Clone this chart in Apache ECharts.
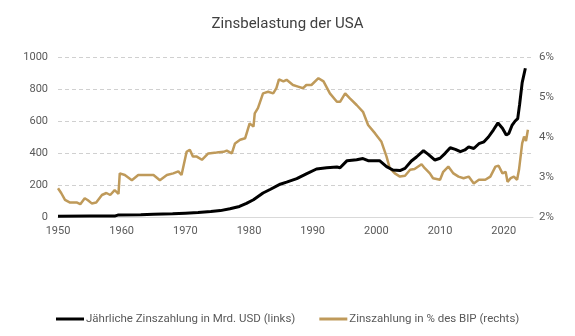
<!DOCTYPE html>
<html>
<head>
<meta charset="utf-8">
<script src="https://cdn.jsdelivr.net/npm/echarts@6/dist/echarts.min.js"></script>
<style>
  html, body { margin: 0; padding: 0; background: #fff; }
  #chart { width: 575px; height: 336px; }
</style>
</head>
<body>
<div id="chart"></div>
<script>
// Federal interest payments, USD bn (left axis)
const paymentYears = [1950, 1955, 1959.0, 1959.4, 1963, 1965, 1968, 1970, 1972, 1974, 1975.5, 1977, 1978.5, 1979.6, 1980.7,
  1982.2, 1983.3, 1984.9, 1985.9, 1987.5, 1989, 1990.6, 1992.2, 1993.8, 1994.3, 1995.4, 1996.9, 1997.9, 1998.7,
  2000.5, 2001.6, 2002.6, 2003.7, 2004.5, 2005.5, 2006.3, 2007.4, 2008.2, 2009.2, 2010, 2010.8, 2011.6, 2012.4,
  2013.2, 2013.9, 2014.5, 2015.3, 2016.1, 2016.9, 2017.6, 2018.4, 2019.1, 2019.8, 2020.4, 2020.8, 2021.3, 2021.8,
  2022.2, 2022.5, 2022.9, 2023.4];
const paymentValues = [5, 7, 7, 12, 14, 17, 20, 24, 28, 34, 40, 52, 66, 85, 108,
  150, 172, 205, 218, 240, 270, 300, 308, 312, 308, 352, 358, 365, 352,
  352, 315, 294, 290, 304, 350, 375, 415, 390, 356, 367, 398, 433, 423,
  408, 419, 438, 428, 458, 470, 500, 545, 588, 555, 512, 522, 572, 600,
  615, 705, 840, 930];

// Interest payments as % of GDP (right axis)
const shareYears = [1950, 1950.5, 1951.1, 1951.9, 1953, 1953.5, 1954.2, 1954.7, 1955.3, 1956, 1956.9, 1957.6, 1958.2,
  1958.9, 1959.5, 1959.7, 1960.5, 1961.6, 1962.6, 1965, 1966, 1967.1, 1968.1, 1968.9, 1969.4, 1970.2, 1970.7,
  1971.2, 1971.8, 1972.6, 1973.6, 1974.9, 1976, 1976.5, 1977.3, 1977.8, 1978.6, 1979.4, 1980.1, 1980.7, 1980.9,
  1981.4, 1982.2, 1983, 1983.8, 1984.3, 1984.7, 1985.4, 1985.9, 1986.9, 1987.7, 1988.5, 1989, 1989.8, 1990.9,
  1991.7, 1992.7, 1993.8, 1994.3, 1995.1, 1995.8, 1996.9, 1997.9, 1998.7, 1999.8, 2000.8, 2001.6, 2002.1, 2002.9,
  2003.7, 2004.5, 2005.3, 2006, 2007.1, 2007.6, 2008.4, 2008.9, 2010, 2010.5, 2011.3, 2012.1, 2012.9, 2013.7,
  2014.5, 2015.3, 2016.1, 2017.1, 2017.9, 2018.7, 2019.2, 2019.8, 2020.3, 2020.6, 2021.1, 2021.6, 2022.1, 2022.4,
  2022.9, 2023.2, 2023.5, 2023.8];
const shareValues = [2.72, 2.6, 2.43, 2.36, 2.36, 2.32, 2.47, 2.42, 2.34, 2.36, 2.55, 2.6, 2.55,
  2.67, 2.58, 3.09, 3.05, 2.92, 3.05, 3.05, 2.92, 3.05, 3.09, 3.14, 3.05, 3.63, 3.68,
  3.51, 3.51, 3.43, 3.59, 3.61, 3.63, 3.66, 3.59, 3.84, 3.93, 3.97, 4.34, 4.26, 4.59,
  4.72, 5.09, 5.13, 5.09, 5.22, 5.44, 5.39, 5.43, 5.3, 5.26, 5.22, 5.3, 5.3, 5.47,
  5.39, 5.09, 4.88, 4.88, 5.09, 4.97, 4.8, 4.63, 4.3, 4.09, 3.88, 3.51, 3.22, 3.09,
  3.01, 3.03, 3.18, 3.2, 3.32, 3.22, 3.09, 2.97, 2.93, 3.13, 3.26, 3.09, 3.01, 2.97,
  3.01, 2.84, 2.93, 2.93, 3.01, 3.26, 3.28, 3.09, 3.13, 2.88, 2.97, 3.01, 2.93, 3.18,
  3.84, 4.01, 3.9, 4.18];

const leftTicks = [0, 200, 400, 600, 800, 1000];
const rightTicks = [2, 3, 4, 5, 6];
const yearTicks = [1950, 1960, 1970, 1980, 1990, 2000, 2010, 2020];

const seriesNames = ['Jährliche Zinszahlung in Mrd. USD (links)', 'Zinszahlung in % des BIP (rechts)'];

const zip = (xs, ys) => xs.map((x, i) => [x, ys[i]]);

const FONT = 'Roboto';
const LABEL = '#595959';

const chart = echarts.init(document.getElementById('chart'), null, { renderer: 'canvas' });
chart.setOption({
  backgroundColor: '#ffffff',
  animation: false,
  title: {
    text: 'Zinsbelastung der USA',
    left: 'center',
    top: 12,
    textStyle: { fontFamily: FONT, fontSize: 15, fontWeight: 'normal', color: '#404040' }
  },
  legend: {
    left: 51,
    top: 308,
    itemWidth: 28,
    itemHeight: 3,
    itemGap: 24,
    icon: 'rect',
    textStyle: { fontFamily: FONT, fontSize: 11.5, color: LABEL, padding: [0, 0, 0, -3] },
    data: seriesNames
  },
  grid: { left: 58, right: 42, top: 57, bottom: 119, containLabel: false },
  xAxis: {
    type: 'value',
    min: yearTicks[0],
    max: 2024.6,
    interval: 10,
    axisLine: { show: true, lineStyle: { color: '#d9d9d9', width: 1 } },
    axisTick: { show: false },
    splitLine: { show: false },
    axisLabel: {
      fontFamily: FONT, fontSize: 11, color: LABEL, margin: 9,
      showMaxLabel: false,
      formatter: v => (yearTicks.indexOf(v) >= 0 ? String(v) : '')
    }
  },
  yAxis: [
    {
      type: 'value',
      min: leftTicks[0],
      max: leftTicks[leftTicks.length - 1],
      interval: 200,
      axisLine: { show: false },
      axisTick: { show: false },
      axisLabel: { fontFamily: FONT, fontSize: 11, color: LABEL, margin: 10, formatter: v => String(v) },
      splitLine: { show: true, lineStyle: { color: '#d0d0d0', type: [4, 3], width: 1 } }
    },
    {
      type: 'value',
      min: rightTicks[0],
      max: rightTicks[rightTicks.length - 1],
      interval: 1,
      position: 'right',
      axisLine: { show: false },
      axisTick: { show: false },
      axisLabel: { fontFamily: FONT, fontSize: 11.5, color: LABEL, margin: 6, formatter: '{value}%' },
      splitLine: { show: false }
    }
  ],
  series: [
    {
      name: seriesNames[0],
      type: 'line',
      yAxisIndex: 0,
      data: zip(paymentYears, paymentValues),
      showSymbol: false,
      symbol: 'none',
      z: 3,
      lineStyle: { color: '#000000', width: 3 },
      itemStyle: { color: '#000000' }
    },
    {
      name: seriesNames[1],
      type: 'line',
      yAxisIndex: 1,
      data: zip(shareYears, shareValues),
      showSymbol: false,
      symbol: 'none',
      z: 2,
      lineStyle: { color: '#BF9A5A', width: 2.5 },
      itemStyle: { color: '#BF9A5A' }
    }
  ]
});
</script>
</body>
</html>
